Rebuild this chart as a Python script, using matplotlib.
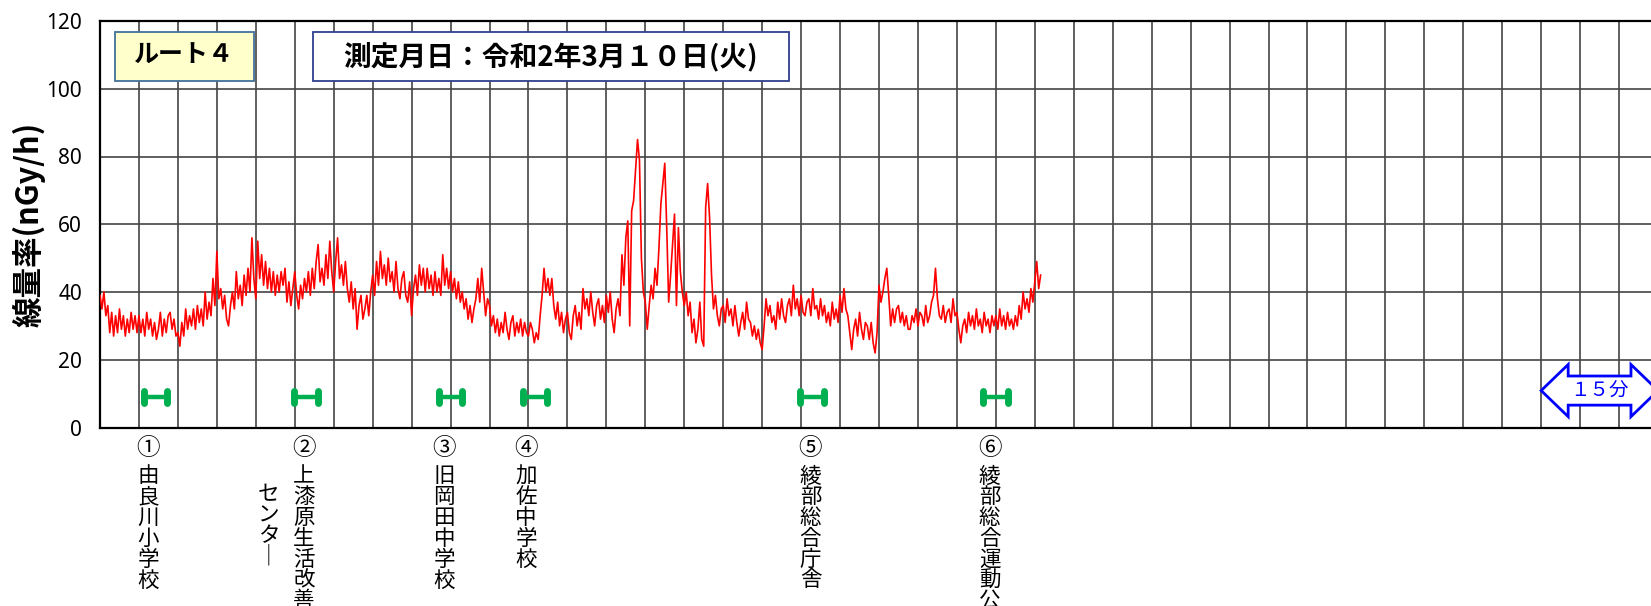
import numpy as np
import matplotlib.pyplot as plt
from matplotlib.patches import Rectangle, Polygon
from matplotlib.markers import MarkerStyle

plt.rcParams['font.family'] = ['Noto Sans CJK JP', 'DejaVu Sans']

# 空間線量率 (nGy/h)、0.25分ごとの測定値
dose = [
    39, 35, 40, 33, 36, 28, 34, 27, 33, 28, 35, 29, 33, 27, 32, 28, 34, 29, 33, 28,
    33, 28, 32, 27, 34, 29, 32, 27, 31, 26, 29, 34, 27, 32, 28, 33, 34, 29, 32, 27,
    28, 24, 31, 27, 35, 29, 33, 30, 35, 29, 36, 31, 35, 30, 40, 32, 37, 33, 44, 36,
    52, 38, 41, 35, 39, 32, 30, 36, 40, 35, 46, 38, 42, 36, 45, 39, 47, 40, 56, 44,
    38, 55, 44, 51, 42, 49, 41, 47, 40, 46, 39, 45, 40, 46, 42, 47, 37, 43, 36, 41,
    46, 39, 35, 42, 38, 44, 40, 46, 39, 47, 41, 49, 54, 43, 47, 42, 51, 44, 55, 46,
    40, 49, 56, 44, 48, 42, 49, 41, 37, 43, 35, 41, 29, 36, 39, 32, 35, 39, 33, 40,
    45, 39, 49, 42, 52, 44, 48, 42, 50, 43, 46, 40, 49, 41, 38, 44, 46, 39, 37, 43,
    33, 41, 45, 39, 48, 42, 47, 40, 47, 41, 45, 39, 46, 40, 44, 39, 51, 42, 47, 41,
    46, 40, 44, 38, 43, 37, 40, 35, 38, 32, 36, 31, 35, 38, 44, 37, 47, 40, 33, 38,
    36, 30, 33, 28, 32, 27, 31, 28, 34, 29, 26, 31, 33, 27, 31, 28, 32, 27, 31, 28,
    27, 31, 29, 25, 28, 26, 33, 39, 47, 40, 44, 39, 44, 36, 32, 37, 30, 34, 28, 32,
    34, 28, 26, 33, 36, 30, 34, 29, 41, 35, 38, 33, 40, 34, 30, 36, 38, 32, 36, 31,
    39, 34, 40, 32, 28, 35, 38, 33, 51, 42, 56, 61, 30, 64, 67, 76, 85, 79, 50, 40,
    37, 29, 36, 42, 38, 47, 42, 53, 66, 72, 78, 59, 37, 45, 54, 63, 36, 59, 46, 40,
    36, 40, 33, 37, 28, 32, 25, 29, 37, 26, 24, 65, 72, 62, 45, 35, 39, 33, 30, 35,
    36, 31, 38, 33, 35, 30, 36, 31, 27, 31, 34, 29, 37, 32, 31, 27, 30, 26, 29, 25,
    23, 30, 38, 33, 36, 31, 33, 29, 37, 32, 38, 33, 31, 36, 38, 33, 42, 35, 38, 33,
    39, 34, 33, 37, 38, 33, 41, 35, 36, 32, 38, 33, 36, 31, 34, 30, 37, 32, 35, 31,
    39, 34, 41, 35, 33, 28, 23, 29, 32, 27, 34, 29, 26, 31, 30, 26, 31, 25, 22, 28,
    42, 37, 40, 44, 47, 39, 30, 35, 31, 35, 36, 31, 34, 30, 33, 29, 29, 33, 31, 35,
    30, 34, 33, 30, 36, 31, 33, 37, 39, 47, 38, 33, 32, 36, 31, 34, 35, 31, 38, 33,
    34, 29, 25, 30, 32, 28, 34, 30, 33, 29, 35, 30, 32, 28, 34, 30, 32, 28, 33, 30,
    33, 29, 35, 30, 33, 29, 34, 30, 32, 29, 33, 30, 36, 32, 40, 35, 38, 34, 41, 37,
    43, 49, 41, 45,
]
step_min = 0.25
t = np.arange(len(dose)) * step_min

# 測定地点での停車時間 (分)
stop_start = [5.6, 24.9, 43.5, 54.3, 89.9, 113.4]
stop_end = [8.6, 28.0, 46.5, 57.4, 93.0, 116.6]
stop_level = 9

station_x = [6.2, 26.2, 44.2, 54.7, 91.2, 114.2]
station_no = ['①', '②', '③', '④', '⑤', '⑥']
station_cols = [
    ['由良川小学校'],
    ['上漆原生活改善', 'センター'],
    ['旧岡田中学校'],
    ['加佐中学校'],
    ['綾部総合庁舎'],
    ['綾部総合運動公園'],
]
# 縦書きで形の変わる文字
vertical_forms = {'ー': '｜'}

scale_start = 185
scale_len = 15
scale_label = '１５分'
route_label = 'ルート４'
date_label = '測定月日：令和2年3月１０日(火)'

W, H = 1651, 606
fig = plt.figure(figsize=(W / 100, H / 100), dpi=100)
ax = fig.add_axes([100 / W, 1 - 427.5 / H, 1558 / W, 406.5 / H])
ax.set_xlim(0, 200)
ax.set_ylim(0, 120)
ax.set_xticks(np.arange(0, 201, 5))
ax.set_xticklabels([])
ax.set_yticks(range(0, 121, 20))
ax.tick_params(length=0)
ax.tick_params(axis='y', pad=13, labelsize=15)
for lab in ax.get_yticklabels():
    lab.set_fontfamily('Noto Sans')
ax.grid(True, color='#444444', lw=1.2)
ax.set_axisbelow(True)
for side in ['left', 'top', 'bottom']:
    ax.spines[side].set_linewidth(1.6)
    ax.spines[side].set_color('black')

fig.text(29.5 / W, 1 - 224 / H, '線量率(nGy/h)', rotation=90, ha='center',
         va='center', fontsize=22, fontweight='bold')

# 線量率の推移
ax.plot(t, dose, color='red', lw=1.2, zorder=3)

# 停車区間
cap = MarkerStyle('|', capstyle='round')
for s, e in zip(stop_start, stop_end):
    ax.plot([s, e], [stop_level, stop_level], color='#00B050', lw=3.2,
            marker=cap, markersize=9, markeredgewidth=5, zorder=4)

# 地点名 (縦書き)
pt = 0.72  # px -> pt
pitch = 20.8 * pt
for x, no, cols in zip(station_x, station_no, station_cols):
    ax.annotate(no, (x, 0), xycoords=('data', 'axes fraction'),
                xytext=(0, -21 * pt), textcoords='offset points',
                ha='center', va='center', fontsize=17, annotation_clip=False)
    for ci, col in enumerate(cols):
        dx = -35.8 * pt * ci
        top = (38.6 + 18 * ci) * pt
        for i, ch in enumerate(col):
            ax.annotate(vertical_forms.get(ch, ch), (x, 0),
                        xycoords=('data', 'axes fraction'),
                        xytext=(dx, -(top + (i + 0.5) * pitch)),
                        textcoords='offset points', ha='center', va='center',
                        fontsize=15.5, annotation_clip=False)

# ルート名と測定日
ax.add_patch(Rectangle((1.9, 102.3), 17.84, 14.6, facecolor='#FFFFCC',
                       edgecolor='#41719C', lw=1.3, zorder=5))
ax.text(1.9 + 17.84 / 2, 102.3 + 14.6 / 2, route_label, ha='center', va='center',
        fontsize=18, fontweight='bold', zorder=6)
ax.add_patch(Rectangle((27.3, 102.3), 61.2, 14.6, facecolor='white',
                       edgecolor='#2F3F8F', lw=1.3, zorder=5))
ax.text(27.3 + 61.2 / 2, 102.3 + 14.6 / 2, date_label, ha='center', va='center',
        fontsize=20, fontweight='bold', zorder=6)

# 時間スケール (15分)
x0, x1 = scale_start, scale_start + scale_len
yc, hl, hh, sh = 10.9, 3.47, 7.7, 4.3
verts = [(x0, yc), (x0 + hl, yc + hh), (x0 + hl, yc + sh), (x1 - hl, yc + sh),
         (x1 - hl, yc + hh), (x1, yc), (x1 - hl, yc - hh), (x1 - hl, yc - sh),
         (x0 + hl, yc - sh), (x0 + hl, yc - hh)]
ax.add_patch(Polygon(verts, closed=True, facecolor='white', edgecolor='blue',
                     lw=2, zorder=5, clip_on=False))
ax.text((x0 + x1) / 2, yc, scale_label, ha='center', va='center', color='blue',
        fontsize=14, zorder=6)

fig.savefig('out.png', dpi=100)
